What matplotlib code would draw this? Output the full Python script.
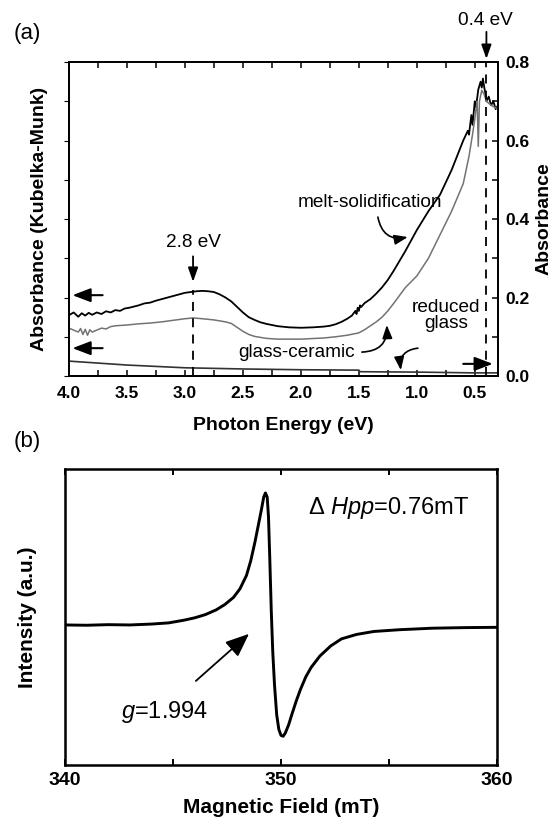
import matplotlib
matplotlib.use("Agg")
import matplotlib.pyplot as plt
from matplotlib.ticker import MultipleLocator

plt.rcParams["font.family"] = ["Liberation Sans", "DejaVu Sans"]
plt.rcParams["mathtext.fontset"] = "custom"
plt.rcParams["mathtext.rm"] = "Liberation Sans"
plt.rcParams["mathtext.it"] = "Liberation Sans:italic"

# (a) absorption spectra vs photon energy (eV)
MELT_E = [4.00, 3.96, 3.92, 3.89, 3.86, 3.83, 3.80, 3.76, 3.72, 3.68, 3.64, 3.60,
          3.56, 3.52, 3.48, 3.44, 3.40, 3.35, 3.30, 3.25, 3.20, 3.15, 3.10, 3.05,
          3.00, 2.95, 2.90, 2.85, 2.80, 2.75, 2.70, 2.65, 2.60, 2.55, 2.50, 2.45,
          2.40, 2.35, 2.30, 2.25, 2.20, 2.10, 2.00, 1.90, 1.80, 1.75, 1.70, 1.65,
          1.60, 1.56, 1.53, 1.52, 1.51, 1.50, 1.49, 1.48, 1.45, 1.40, 1.35, 1.30,
          1.25, 1.20, 1.10, 1.00, 0.90, 0.80, 0.70, 0.60, 0.56, 0.55, 0.53, 0.52,
          0.50, 0.49, 0.47, 0.45, 0.44, 0.43, 0.42, 0.41, 0.40, 0.38, 0.36, 0.34,
          0.32, 0.30]
MELT_ABS = [0.155, 0.162, 0.151, 0.160, 0.154, 0.161, 0.156, 0.162, 0.158, 0.165, 0.162, 0.168,
            0.166, 0.172, 0.174, 0.177, 0.180, 0.185, 0.187, 0.192, 0.196, 0.200, 0.204, 0.208,
            0.212, 0.214, 0.216, 0.217, 0.216, 0.214, 0.208, 0.200, 0.190, 0.176, 0.162, 0.150,
            0.143, 0.137, 0.133, 0.130, 0.127, 0.124, 0.123, 0.124, 0.126, 0.128, 0.132, 0.138,
            0.146, 0.154, 0.166, 0.158, 0.174, 0.166, 0.180, 0.176, 0.186, 0.196, 0.210, 0.226,
            0.245, 0.268, 0.318, 0.372, 0.420, 0.462, 0.525, 0.600, 0.625, 0.615, 0.665, 0.640,
            0.700, 0.685, 0.730, 0.750, 0.735, 0.758, 0.738, 0.722, 0.700, 0.712, 0.690, 0.700,
            0.680, 0.690]

GC_E = [4.00, 3.96, 3.92, 3.90, 3.88, 3.86, 3.84, 3.82, 3.80, 3.76, 3.72, 3.68,
        3.64, 3.60, 3.50, 3.40, 3.30, 3.20, 3.10, 3.00, 2.93, 2.85, 2.75, 2.65,
        2.60, 2.55, 2.50, 2.45, 2.40, 2.30, 2.20, 2.00, 1.80, 1.70, 1.60, 1.50,
        1.45, 1.40, 1.35, 1.30, 1.25, 1.20, 1.15, 1.10, 1.05, 1.00, 0.90, 0.80,
        0.70, 0.60, 0.55, 0.52, 0.50, 0.49, 0.48, 0.47, 0.46, 0.44, 0.42, 0.40,
        0.36, 0.30]
GC_ABS = [0.122, 0.117, 0.112, 0.121, 0.106, 0.119, 0.104, 0.118, 0.112, 0.117, 0.122, 0.120,
          0.126, 0.128, 0.130, 0.133, 0.135, 0.138, 0.142, 0.146, 0.148, 0.146, 0.143, 0.138,
          0.134, 0.124, 0.114, 0.106, 0.101, 0.096, 0.094, 0.094, 0.097, 0.100, 0.104, 0.110,
          0.118, 0.128, 0.138, 0.150, 0.166, 0.185, 0.205, 0.225, 0.240, 0.255, 0.300, 0.360,
          0.420, 0.490, 0.560, 0.615, 0.655, 0.680, 0.700, 0.585, 0.700, 0.728, 0.718, 0.700,
          0.690, 0.680]

GLASS_E = [4.00, 3.50, 3.00, 2.50, 2.00, 1.50, 1.49, 1.00, 0.50, 0.30]
GLASS_ABS = [0.038, 0.028, 0.021, 0.018, 0.016, 0.015, 0.011, 0.010, 0.008, 0.008]

E_TICKS = [4.0, 3.5, 3.0, 2.5, 2.0, 1.5, 1.0, 0.5]
ABS_TICKS = [0.0, 0.2, 0.4, 0.6, 0.8]

# (b) ESR spectrum, magnetic field (mT) vs intensity (a.u.)
FIELD_MT = [340.0, 341.0, 342.0, 343.0, 344.0, 344.8, 345.5, 346.0, 346.5, 347.0,
            347.4, 347.8, 348.1, 348.4, 348.6, 348.8, 348.95, 349.1, 349.2, 349.28,
            349.36, 349.42, 349.48, 349.55, 349.62, 349.7, 349.8, 349.9, 350.0, 350.1,
            350.2, 350.35, 350.5, 350.7, 350.9, 351.15, 351.4, 351.8, 352.3, 352.8,
            353.5, 354.3, 355.5, 357.0, 358.5, 360.0]
ESR_INT = [0.473, 0.472, 0.474, 0.473, 0.476, 0.480, 0.489, 0.497, 0.508, 0.524,
           0.542, 0.566, 0.595, 0.640, 0.690, 0.755, 0.810, 0.865, 0.905, 0.919,
           0.905, 0.840, 0.700, 0.520, 0.380, 0.270, 0.170, 0.120, 0.100, 0.097,
           0.108, 0.135, 0.170, 0.215, 0.255, 0.298, 0.330, 0.368, 0.402, 0.426,
           0.441, 0.451, 0.457, 0.462, 0.464, 0.465]
FIELD_TICKS = [340, 350, 360]

NOTE = 13.7     # plain annotations, panel (a)
LABEL_A = 14
TICK_A = 12.5
LABEL_B = 15
TICK_B = 14
NOTE_B = 17


def plot_absorption(fig):
    ax = fig.add_axes([0.1243, 0.5431, 0.7730, 0.3815])
    ax.plot(MELT_E, MELT_ABS, color="black", lw=1.3)
    ax.plot(GC_E, GC_ABS, color="#737373", lw=1.1)
    ax.plot(GLASS_E, GLASS_ABS, color="#333333", lw=1.2)
    ax.set_xlim(4.0, 0.3)
    ax.set_ylim(0, 0.8)

    ax.set_xticks(E_TICKS, [f"{t:.1f}" for t in E_TICKS], fontweight="bold", fontsize=TICK_A)
    ax.xaxis.set_minor_locator(MultipleLocator(0.25))
    ax.tick_params(axis="x", which="both", direction="in", top=True, length=4, width=1.1, pad=7)
    ax.tick_params(axis="y", left=False, labelleft=False)
    ax.set_xlabel("Photon Energy (eV)", fontsize=LABEL_A, fontweight="bold")
    ax.xaxis.set_label_coords(0.5, -0.131)
    ax.set_ylabel("Absorbance (Kubelka-Munk)", fontsize=LABEL_A, fontweight="bold")
    ax.yaxis.set_label_coords(-0.05, 0.5)

    axr = ax.twinx()
    axr.set_ylim(0, 0.8)
    axr.set_yticks(ABS_TICKS, [f"{t:.1f}" for t in ABS_TICKS], fontweight="bold", fontsize=TICK_A)
    axr.yaxis.set_minor_locator(MultipleLocator(0.1))
    axr.tick_params(axis="y", which="both", direction="in", length=4, width=1.1, pad=5)
    axr.set_ylabel("Absorbance", fontsize=LABEL_A, fontweight="bold")
    axr.yaxis.set_label_coords(1.088, 0.5)
    for a in (ax, axr):
        for s in a.spines.values():
            s.set_linewidth(1.3)

    # guide lines at the two band positions
    ax.plot([2.93, 2.93], [0, 0.22], color="black", lw=1.3, ls=(0, (5, 4)))
    ax.plot([0.40, 0.40], [0, 0.8], color="black", lw=1.3, ls=(0, (5, 4)))

    small_head = dict(arrowstyle="-|>,head_length=0.85,head_width=0.3", mutation_scale=10,
                      color="black", lw=1.3, shrinkA=0, shrinkB=0)
    side_head = dict(arrowstyle="-|>,head_length=1.1,head_width=0.42", mutation_scale=10,
                     color="black", lw=1.5, shrinkA=0, shrinkB=0)
    ax.text(2.93, 0.339, "2.8 eV", fontsize=NOTE, ha="center", va="center")
    ax.annotate("", xy=(2.93, 0.24), xytext=(2.93, 0.305), arrowprops=small_head)
    ax.text(0.405, 0.907, "0.4 eV", fontsize=NOTE, ha="center", va="center")
    ax.annotate("", xy=(0.40, 0.808), xytext=(0.40, 0.877), arrowprops=small_head,
                annotation_clip=False)

    # which axis each curve belongs to
    ax.annotate("", xy=(3.97, 0.206), xytext=(3.71, 0.206), arrowprops=side_head)
    ax.annotate("", xy=(3.97, 0.071), xytext=(3.71, 0.071), arrowprops=side_head)
    ax.annotate("", xy=(0.345, 0.031), xytext=(0.60, 0.031), arrowprops=side_head)

    curve_head = dict(arrowstyle="-|>,head_length=0.8,head_width=0.3", mutation_scale=10,
                      color="black", lw=1.2, shrinkA=0, shrinkB=0,
                      connectionstyle="arc3,rad=0.5")
    ax.text(1.405, 0.441, "melt-solidification", fontsize=NOTE, ha="center", va="center")
    ax.annotate("", xy=(1.078, 0.354), xytext=(1.336, 0.405), arrowprops=curve_head)
    ax.text(2.034, 0.061, "glass-ceramic", fontsize=NOTE, ha="center", va="center")
    ax.annotate("", xy=(1.259, 0.130), xytext=(1.474, 0.061), arrowprops=curve_head)
    ax.text(0.745, 0.155, "reduced\nglass", fontsize=NOTE, ha="center", va="center",
            linespacing=0.95)
    ax.annotate("", xy=(1.138, 0.015), xytext=(0.991, 0.071), arrowprops=curve_head)
    return ax


def plot_esr(fig):
    ax = fig.add_axes([0.1171, 0.0705, 0.7784, 0.3597])
    ax.plot(FIELD_MT, ESR_INT, color="black", lw=2.1)
    ax.set_xlim(340, 360)
    ax.set_ylim(0, 1)
    ax.set_xticks(FIELD_TICKS, [str(t) for t in FIELD_TICKS], fontweight="bold", fontsize=TICK_B)
    ax.xaxis.set_minor_locator(MultipleLocator(5))
    ax.tick_params(axis="x", which="both", direction="in", top=True, length=4, width=1.4, pad=5)
    ax.tick_params(axis="y", left=False, labelleft=False)
    for s in ax.spines.values():
        s.set_linewidth(1.8)
    ax.set_xlabel("Magnetic Field (mT)", fontsize=LABEL_B, fontweight="bold")
    ax.xaxis.set_label_coords(0.5, -0.112)
    ax.set_ylabel("Intensity (a.u.)", fontsize=LABEL_B, fontweight="bold")
    ax.yaxis.set_label_coords(-0.065, 0.5)

    ax.text(355.0, 0.868, r"$\Delta\ Hpp$=0.76mT", fontsize=NOTE_B, ha="center", va="center")
    ax.text(344.63, 0.179, r"$g$=1.994", fontsize=NOTE_B, ha="center", va="center")
    ax.annotate("", xy=(348.52, 0.443), xytext=(346.06, 0.284),
                arrowprops=dict(arrowstyle="-|>,head_length=1.45,head_width=0.6",
                                mutation_scale=10, color="black", lw=1.3,
                                shrinkA=0, shrinkB=0))
    return ax


def main():
    fig = plt.figure(figsize=(5.55, 8.23), dpi=100)
    plot_absorption(fig)
    plot_esr(fig)
    fig.text(27 / 555, 1 - 33 / 823, "(a)", fontsize=16, ha="center", va="center")
    fig.text(27 / 555, 1 - 442 / 823, "(b)", fontsize=16, ha="center", va="center")
    fig.savefig("out.png", dpi=100)


if __name__ == "__main__":
    main()
